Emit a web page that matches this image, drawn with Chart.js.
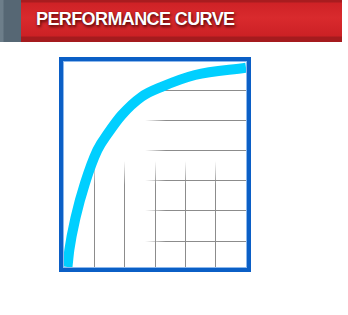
<!DOCTYPE html>
<html lang="en">
<head>
    <meta charset="UTF-8">
    <title>Performance Curve</title>
    <script src="https://cdn.jsdelivr.net/npm/chart.js"></script>
    <style>
        html, body { margin: 0; padding: 0; background: #fff; }
        body { width: 348px; height: 315px; position: relative; overflow: hidden; }
        .header {
            position: absolute; left: 0; top: 0; width: 342px; height: 42px;
            background: linear-gradient(#a81c1f 0, #a81c1f 2px, #cf2226 3px, #d92a2d 18px, #cc2125 36px, #a51b1e 37px, #a51b1e 42px);
        }
        .header .tab {
            position: absolute; left: 0; top: 0; width: 21px; height: 42px;
            background: linear-gradient(90deg, #6d7e8a 0, #6d7e8a 3px, #566774 4px, #566774 21px);
        }
        .header h1 {
            margin: 0; position: absolute; left: 36px; top: 9px;
            font: bold 18px "Liberation Sans", Arial, sans-serif;
            letter-spacing: -0.6px;
            color: #fff;
            text-shadow: 0 0 1px rgba(90, 0, 0, 0.9), 1px 2px 3px rgba(60, 0, 0, 0.8);
        }
        .chart-box { position: absolute; left: 0; top: 0; width: 348px; height: 315px; }
    </style>
</head>
<body>
    <div class="header"><div class="tab"></div><h1>PERFORMANCE CURVE</h1></div>
    <div class="chart-box"><canvas id="curve"></canvas></div>
    <script>
        // grid positions (data units)
        const xTicks = [1, 2, 3, 4, 5];
        const yTicks = [0, 1, 2, 3, 4, 5];
        // curve
        const curveX = [0.115, 0.175, 0.386, 0.69, 1.10, 1.46, 1.90, 2.56, 3.20, 4.32, 6.0];
        const curveY = [-0.86, -0.30, 0.80, 1.91, 3.01, 3.58, 4.17, 4.78, 5.10, 5.50, 5.74];

        // horizontal lines fade in from the left, vertical ones from the top
        function hGridColor(context) {
            const chart = context.chart;
            if (!chart.chartArea) return '#8c8c8c';
            const g = chart.ctx.createLinearGradient(145, 0, 166, 0);
            g.addColorStop(0, 'rgba(140,140,140,0)');
            g.addColorStop(1, 'rgba(140,140,140,1)');
            return g;
        }
        function vGridColor(context) {
            const chart = context.chart;
            if (!chart.chartArea) return '#8c8c8c';
            const g = chart.ctx.createLinearGradient(0, 161, 0, 185);
            g.addColorStop(0, 'rgba(140,140,140,0)');
            g.addColorStop(1, 'rgba(140,140,140,1)');
            return g;
        }

        // blue frame round the plot area
        const frame = {
            id: 'frame',
            afterDraw(chart) {
                const a = chart.chartArea;
                const ctx = chart.ctx;
                ctx.save();
                ctx.strokeStyle = '#8db8ec';
                ctx.lineWidth = 1;
                ctx.strokeRect(a.left - 0.5, a.top - 0.5, a.width + 1, a.height + 1);
                ctx.strokeStyle = '#0b5fc6';
                ctx.lineWidth = 4;
                ctx.strokeRect(a.left - 3, a.top - 3, a.width + 6, a.height + 6);
                ctx.restore();
            }
        };

        const ctx = document.getElementById('curve').getContext('2d');
        new Chart(ctx, {
            type: 'line',
            data: {
                datasets: [{
                    data: curveX.map((x, i) => ({ x: x, y: curveY[i] })),
                    borderColor: '#00cfff',
                    borderWidth: 10,
                    pointRadius: 0,
                    cubicInterpolationMode: 'monotone',
                    fill: false
                }]
            },
            options: {
                responsive: true,
                maintainAspectRatio: false,
                animation: false,
                layout: { padding: { left: 64, top: 62, right: 102, bottom: 48 } },
                plugins: { legend: { display: false }, tooltip: { enabled: false } },
                scales: {
                    x: {
                        type: 'linear', min: 0, max: 6,
                        afterBuildTicks: s => { s.ticks = xTicks.map(v => ({ value: v })); },
                        ticks: { display: false },
                        border: { display: false },
                        grid: { drawTicks: false, color: vGridColor, lineWidth: 1 }
                    },
                    y: {
                        type: 'linear', min: -0.86, max: 5.93,
                        afterBuildTicks: s => { s.ticks = yTicks.map(v => ({ value: v })); },
                        ticks: { display: false },
                        border: { display: false },
                        grid: { drawTicks: false, color: hGridColor, lineWidth: 1 }
                    }
                }
            },
            plugins: [frame]
        });
    </script>
</body>
</html>
